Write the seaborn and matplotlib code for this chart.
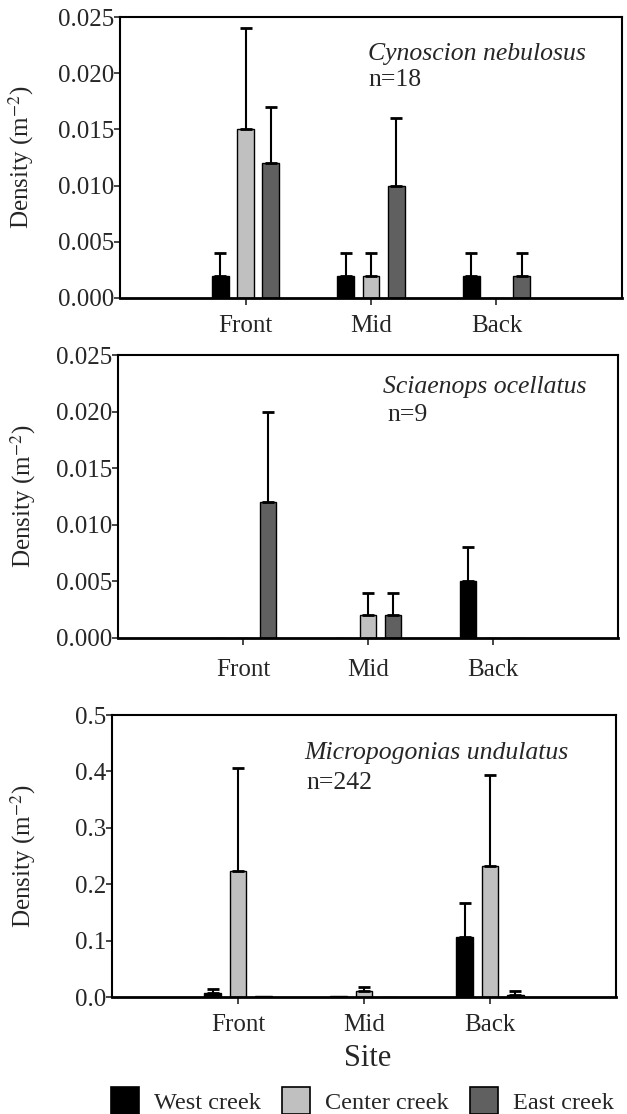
import numpy as np
import pandas as pd
import matplotlib
matplotlib.use("Agg")
import matplotlib.pyplot as plt
import matplotlib.patches as mpatches
import seaborn as sns

# Data
sites = ["Front", "Mid", "Back"]
creeks = ["West creek", "Center creek", "East creek"]
creek_colors = ["#000000", "#c0c0c0", "#606060"]

# Cynoscion nebulosus, n=18
cyn_mean = {"West creek": [0.002, 0.002, 0.002],
            "Center creek": [0.015, 0.002, 0.0],
            "East creek": [0.012, 0.010, 0.002]}
cyn_se = {"West creek": [0.002, 0.002, 0.002],
          "Center creek": [0.009, 0.002, 0.0],
          "East creek": [0.005, 0.006, 0.002]}

# Sciaenops ocellatus, n=9
sci_mean = {"West creek": [0.0, 0.0, 0.005],
            "Center creek": [0.0, 0.002, 0.0],
            "East creek": [0.012, 0.002, 0.0]}
sci_se = {"West creek": [0.0, 0.0, 0.003],
          "Center creek": [0.0, 0.002, 0.0],
          "East creek": [0.008, 0.002, 0.0]}

# Micropogonias undulatus, n=242
mic_mean = {"West creek": [0.008, 0.002, 0.107],
            "Center creek": [0.224, 0.010, 0.233],
            "East creek": [0.002, 0.0, 0.004]}
mic_se = {"West creek": [0.006, 0.0, 0.060],
          "Center creek": [0.182, 0.007, 0.160],
          "East creek": [0.0, 0.0, 0.006]}

panels = [
    ("Cynoscion nebulosus", "n=18", cyn_mean, cyn_se, 0.025, 0.005, "%.3f"),
    ("Sciaenops ocellatus", "n=9", sci_mean, sci_se, 0.025, 0.005, "%.3f"),
    ("Micropogonias undulatus", "n=242", mic_mean, mic_se, 0.5, 0.1, "%.1f"),
]

sns.set_theme(style="ticks")
plt.rcParams["font.family"] = ["Liberation Serif", "DejaVu Serif"]
plt.rcParams["mathtext.fontset"] = "stix"

fig = plt.figure(figsize=(6.27, 11.14), dpi=100)

# axes rectangles in figure fractions
rects = [[0.1914, 0.7325, 0.8006, 0.2522],
         [0.1882, 0.4273, 0.7974, 0.2540],
         [0.1786, 0.1050, 0.8038, 0.2531]]
label_x = [-0.167, -0.16, -0.147]
text_pos = [(0.494, 0.87, 0.494, 0.775),
            (0.530, 0.887, 0.538, 0.788),
            (0.381, 0.865, 0.385, 0.759)]
xpad = [7, 10, 7]

for i, (species, n_text, means, ses, ymax, ystep, fmt) in enumerate(panels):
    ax = fig.add_axes(rects[i])
    df = pd.DataFrame([
        {"site": s, "creek": c, "density": means[c][j]}
        for c in creeks for j, s in enumerate(sites)
    ])
    sns.barplot(data=df, x="site", y="density", hue="creek",
                order=sites, hue_order=creeks, palette=creek_colors,
                width=0.6, gap=0.33, errorbar=None, edgecolor="black",
                linewidth=1.0, legend=False, ax=ax)

    # upper-only standard error bars
    for cont, c in zip(ax.containers, creeks):
        for bar, se in zip(cont, ses[c]):
            if se <= 0:
                continue
            x = bar.get_x() + bar.get_width() / 2
            ax.errorbar(x, bar.get_height(), yerr=[[0], [se]], fmt="none",
                        ecolor="black", elinewidth=1.5, capsize=4, capthick=2)

    ax.set_xlim(-1, 3)
    ax.set_ylim(0, ymax)
    ax.set_yticks(np.arange(0, ymax + ystep / 2, ystep))
    ax.yaxis.set_major_formatter(matplotlib.ticker.FormatStrFormatter(fmt))
    ax.tick_params(axis="y", length=4, width=1.2, pad=0, labelsize=18)
    ax.tick_params(axis="x", length=5, width=1.2, pad=xpad[i], labelsize=18)
    for sp in ax.spines.values():
        sp.set_visible(True)
        sp.set_linewidth(1.5)
        sp.set_color("black")
    ax.spines["bottom"].set_linewidth(2)
    ax.set_xlabel("")
    ax.set_ylabel("Density (m$^{-2}$)", fontsize=18)
    ax.yaxis.set_label_coords(label_x[i], 0.5)

    tx, ty, nx, ny = text_pos[i]
    ax.text(tx, ty, species, transform=ax.transAxes, fontsize=18.5,
            style="italic", va="center", ha="left")
    ax.text(nx, ny, n_text, transform=ax.transAxes, fontsize=18.5,
            va="center", ha="left")

fig.text(368 / 627, 1 - 1058 / 1114, "Site", fontsize=22,
         ha="center", va="center")

handles = [mpatches.Patch(facecolor=col, edgecolor="black", linewidth=1.2, label=c)
           for c, col in zip(creeks, creek_colors)]
fig.legend(handles=handles, loc="lower center", ncol=3, frameon=False,
           bbox_to_anchor=(0.578, -0.02), fontsize=17.5, handlelength=1.15,
           handleheight=1.35, handletextpad=0.6, columnspacing=0.9)

fig.savefig("out.png", dpi=100)
